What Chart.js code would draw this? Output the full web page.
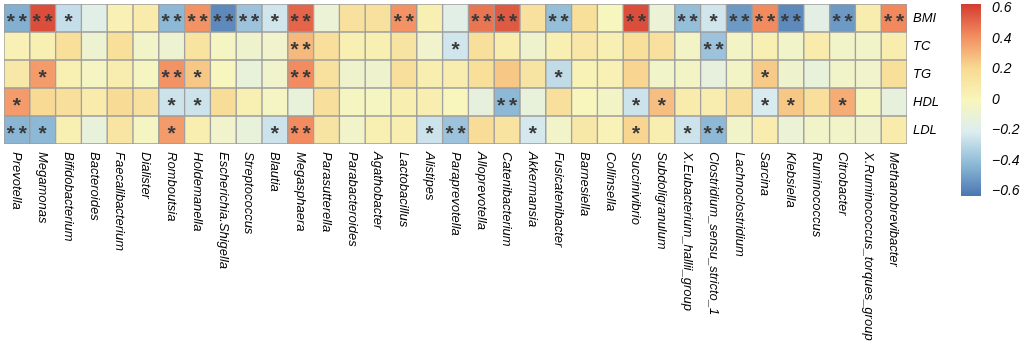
<!DOCTYPE html>
<html>
<head>
<meta charset="utf-8">
<script src="https://cdn.jsdelivr.net/npm/chart.js@4"></script>
<style>
  body { margin: 0; background: #fff; }
  #wrap { width: 1021px; height: 350px; }
</style>
</head>
<body>
<div id="wrap"><canvas id="myChart" width="1021" height="350"></canvas></div>
<script>
var genera = ['Prevotella', 'Megamonas', 'Bifidobacterium', 'Bacteroides', 'Faecalibacterium', 'Dialister',
  'Romboutsia', 'Holdemanella', 'Escherichia.Shigella', 'Streptococcus', 'Blautia', 'Megasphaera',
  'Parasutterella', 'Parabacteroides', 'Agathobacter', 'Lactobacillus', 'Alistipes', 'Paraprevotella',
  'Alloprevotella', 'Catenibacterium', 'Akkermansia', 'Fusicatenibacter', 'Barnesiella', 'Collinsella',
  'Succinivibrio', 'Subdoligranulum', 'X.Eubacterium_hallii_group', 'Clostridium_sensu_stricto_1',
  'Lachnoclostridium', 'Sarcina', 'Klebsiella', 'Ruminococcus', 'Citrobacter',
  'X.Ruminococcus_torques_group', 'Methanobrevibacter'];

var rowNames = ['BMI', 'TC', 'TG', 'HDL', 'LDL'];

// correlation coefficients, one array per row
var bmi = [-0.45, 0.58, -0.27, -0.17, 0.04, 0.08, -0.42, 0.40, -0.57, -0.38, -0.24, 0.52, -0.10, 0.15, 0.15, 0.40, 0.05, -0.17,
  0.48, 0.55, 0.15, -0.40, 0.17, -0.01, 0.58, -0.10, -0.40, -0.24, -0.52, 0.42, -0.57, -0.16, -0.52, 0.07, 0.43];
var tc = [0.04, 0.05, 0.17, -0.08, 0.17, -0.05, -0.08, 0.14, -0.03, -0.07, -0.06, 0.30, 0.16, 0.05, 0.05, 0.13, -0.06, -0.24,
  0.16, 0.07, -0.07, 0.05, 0.11, 0.05, 0.17, 0.15, -0.04, -0.38, -0.04, 0.05, -0.05, 0.08, -0.05, -0.05, 0.07];
var tg = [0.10, 0.38, 0.05, -0.03, 0.07, -0.02, 0.40, 0.26, -0.01, -0.12, -0.06, 0.42, 0.15, -0.07, -0.07, 0.16, 0.06, 0.07,
  0.17, 0.26, 0.13, -0.28, 0.03, 0.04, 0.22, -0.05, -0.04, -0.13, -0.04, 0.25, -0.07, -0.12, -0.05, -0.06, 0.17];
var hdl = [0.38, 0.20, 0.16, 0.08, 0.19, 0.15, -0.25, -0.25, 0.18, 0.05, -0.03, -0.12, 0.16, -0.02, -0.02, 0.06, 0.06, 0.00,
  -0.13, -0.42, -0.12, 0.16, 0.00, -0.04, -0.25, 0.28, 0.08, 0.07, 0.16, -0.22, 0.26, 0.16, 0.33, -0.02, -0.13];
var ldl = [-0.43, -0.42, 0.05, -0.12, 0.12, -0.03, 0.38, 0.06, -0.06, -0.12, -0.25, 0.42, 0.13, -0.05, 0.05, 0.06, -0.25, -0.38,
  0.18, 0.14, -0.23, -0.05, 0.10, 0.03, 0.22, 0.06, -0.25, -0.42, -0.05, 0.07, -0.10, -0.05, -0.05, -0.06, 0.08];

// significance marks
var bmiSig = ['**', '**', '*', '', '', '', '**', '**', '**', '**', '*', '**', '', '', '', '**', '', '',
  '**', '**', '', '**', '', '', '**', '', '**', '*', '**', '**', '**', '', '**', '', '**'];
var tcSig = ['', '', '', '', '', '', '', '', '', '', '', '**', '', '', '', '', '', '*',
  '', '', '', '', '', '', '', '', '', '**', '', '', '', '', '', '', ''];
var tgSig = ['', '*', '', '', '', '', '**', '*', '', '', '', '**', '', '', '', '', '', '',
  '', '', '', '*', '', '', '', '', '', '', '', '*', '', '', '', '', ''];
var hdlSig = ['*', '', '', '', '', '', '*', '*', '', '', '', '', '', '', '', '', '', '',
  '', '**', '', '', '', '', '*', '*', '', '', '', '*', '*', '', '*', '', ''];
var ldlSig = ['**', '*', '', '', '', '', '*', '', '', '', '*', '**', '', '', '', '', '*', '**',
  '', '', '*', '', '', '', '*', '', '*', '**', '', '', '', '', '', '', ''];

var colorTicks = [0.6, 0.4, 0.2, 0, -0.2, -0.4, -0.6];
var palette = [
  [-0.63, '#4a76b2'], [-0.42, '#8db9d6'], [-0.21, '#dcedf0'], [0, '#f8f6bc'],
  [0.21, '#f8d992'], [0.42, '#f28c60'], [0.63, '#d43b31']
];

function hex2rgb(h) {
  return [parseInt(h.substr(1, 2), 16), parseInt(h.substr(3, 2), 16), parseInt(h.substr(5, 2), 16)];
}
function colorFor(v) {
  if (v <= palette[0][0]) return palette[0][1];
  for (var i = 1; i < palette.length; i++) {
    if (v <= palette[i][0]) {
      var t = (v - palette[i - 1][0]) / (palette[i][0] - palette[i - 1][0]);
      var a = hex2rgb(palette[i - 1][1]), b = hex2rgb(palette[i][1]);
      return 'rgb(' + [0, 1, 2].map(function (k) { return Math.round(a[k] + (b[k] - a[k]) * t); }).join(',') + ')';
    }
  }
  return palette[palette.length - 1][1];
}

// bottom row first so the stack builds upward: LDL ... BMI
var rows = [
  { name: 'LDL', values: ldl, sig: ldlSig },
  { name: 'HDL', values: hdl, sig: hdlSig },
  { name: 'TG', values: tg, sig: tgSig },
  { name: 'TC', values: tc, sig: tcSig },
  { name: 'BMI', values: bmi, sig: bmiSig }
];

var datasets = rows.map(function (r) {
  return {
    label: r.name,
    data: genera.map(function () { return 1; }),
    backgroundColor: r.values.map(colorFor),
    borderColor: '#9c9c9c',
    borderWidth: 1,
    borderSkipped: false,
    categoryPercentage: 1,
    barPercentage: 1,
    sig: r.sig
  };
});

var starPlugin = {
  id: 'stars',
  afterDatasetsDraw: function (chart) {
    var ctx = chart.ctx;
    ctx.save();
    ctx.fillStyle = '#3a3a3a';
    ctx.font = 'bold 21px "Liberation Sans"';
    ctx.textAlign = 'center';
    ctx.textBaseline = 'alphabetic';
    chart.data.datasets.forEach(function (ds, di) {
      var meta = chart.getDatasetMeta(di);
      meta.data.forEach(function (el, i) {
        var s = ds.sig[i];
        if (!s) return;
        var cy = (el.y + el.base) / 2 + 10;
        if (s === '**') {
          ctx.fillText('*', el.x - 6, cy);
          ctx.fillText('*', el.x + 6, cy);
        } else {
          ctx.fillText('*', el.x, cy);
        }
      });
    });
    ctx.restore();
  }
};

var labelPlugin = {
  id: 'labels',
  afterDraw: function (chart) {
    var ctx = chart.ctx;
    var area = chart.chartArea;
    var xs = chart.scales.x;
    ctx.save();
    ctx.fillStyle = '#000';
    ctx.font = 'italic 13px "Liberation Sans"';
    ctx.textAlign = 'left';
    ctx.textBaseline = 'middle';
    genera.forEach(function (g, i) {
      ctx.save();
      ctx.translate(xs.getPixelForValue(i), area.bottom + 8);
      ctx.rotate(Math.PI / 2);
      ctx.fillText(g, 0, 0);
      ctx.restore();
    });

    // colour key
    var x0 = 961, w = 20, top = 4, bot = 196, vmax = 0.63, vmin = -0.63;
    var grad = ctx.createLinearGradient(0, bot, 0, top);
    palette.forEach(function (p) {
      grad.addColorStop((p[0] - vmin) / (vmax - vmin), p[1]);
    });
    ctx.fillStyle = grad;
    ctx.fillRect(x0, top, w, bot - top);
    ctx.fillStyle = '#000';
    ctx.font = 'italic 14px "Liberation Sans"';
    colorTicks.forEach(function (t) {
      var y = bot - (t - vmin) / (vmax - vmin) * (bot - top);
      var txt = t < 0 ? '\u2212' + Math.abs(t) : String(t);
      ctx.fillText(txt, 992, y);
    });
    ctx.restore();
  }
};

var ctx = document.getElementById('myChart').getContext('2d');
var myChart = new Chart(ctx, {
  type: 'bar',
  data: { labels: genera, datasets: datasets },
  options: {
    responsive: false,
    animation: false,
    layout: { padding: { left: 4, top: 4, right: 54, bottom: 206 } },
    plugins: { legend: { display: false }, tooltip: { enabled: false } },
    scales: {
      x: { stacked: true, display: false },
      y: {
        stacked: true,
        position: 'right',
        min: 0,
        max: 5,
        grid: { display: false, drawTicks: false },
        border: { display: false },
        afterFit: function (scale) {
          scale.width = 60;
          scale.paddingTop = 0;
          scale.paddingBottom = 0;
        },
        afterBuildTicks: function (scale) {
          scale.ticks = rows.map(function (r, i) { return { value: i + 0.5 }; });
        },
        ticks: {
          padding: 6,
          color: '#000',
          font: { family: 'Liberation Sans', size: 13, style: 'italic' },
          callback: function (v) { return rows[Math.floor(v)].name; }
        }
      }
    }
  },
  plugins: [starPlugin, labelPlugin]
});
</script>
</body>
</html>
